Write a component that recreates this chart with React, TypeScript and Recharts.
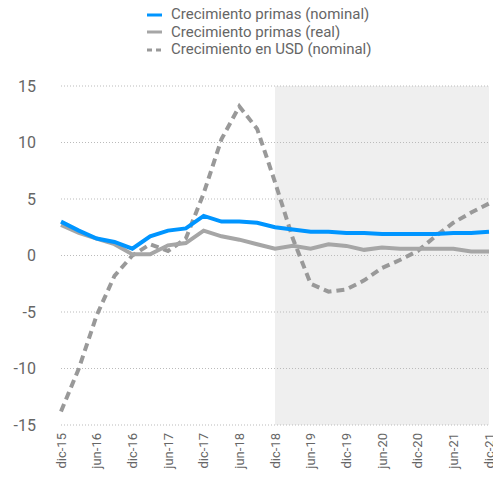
import { Line, LineChart, ReferenceArea, ReferenceLine, XAxis, YAxis } from "recharts";

const periods = [
  "dic-15", "mar-16", "jun-16", "sep-16", "dic-16", "mar-17", "jun-17", "sep-17", "dic-17",
  "mar-18", "jun-18", "sep-18", "dic-18", "mar-19", "jun-19", "sep-19", "dic-19", "mar-20",
  "jun-20", "sep-20", "dic-20", "mar-21", "jun-21", "sep-21", "dic-21"
];
const nominal = [3.0, 2.2, 1.5, 1.2, 0.6, 1.7, 2.2, 2.4, 3.5, 3.0, 3.0, 2.9, 2.5, 2.3, 2.1, 2.1, 2.0, 2.0, 1.9, 1.9, 1.9, 1.9, 2.0, 2.0, 2.1];
const real = [2.7, 2.0, 1.5, 1.0, 0.1, 0.1, 0.9, 1.1, 2.2, 1.7, 1.4, 1.0, 0.6, 0.85, 0.6, 1.0, 0.85, 0.5, 0.7, 0.6, 0.6, 0.6, 0.6, 0.35, 0.35];
const usd = [-13.8, -10.0, -5.3, -1.8, 0.0, 1.0, 0.4, 1.5, 5.5, 10.3, 13.2, 11.2, 6.5, 1.5, -2.5, -3.2, -3.0, -2.2, -1.1, -0.4, 0.4, 1.7, 2.9, 3.8, 4.6];
const yTicks = [-15, -10, -5, 0, 5, 10, 15];
const shownTicks = periods.filter((_, i) => i % 2 === 0);

const data = periods.map((p, i) => ({ p, nominal: nominal[i], real: real[i], usd: usd[i] }));

const font = "Roboto, 'DejaVu Sans', sans-serif";

function XTick({ x, y, payload }: any) {
  return (
    <g transform={`translate(${x},${y})`}>
      <text transform="rotate(-90)" textAnchor="end" dy="0.35em" fill="#666" fontSize={13} fontFamily={font}>
        {payload.value}
      </text>
    </g>
  );
}

function LegendBox() {
  const rows = [
    { label: "Crecimiento primas (nominal)", color: "#0095ff", dash: undefined },
    { label: "Crecimiento primas (real)", color: "#a6a6a6", dash: undefined },
    { label: "Crecimiento en USD (nominal)", color: "#999", dash: "5 4" }
  ];
  return (
    <div style={{ position: "absolute", left: 147, top: 6, fontFamily: font, fontSize: 15, color: "#666", lineHeight: "17.5px" }}>
      {rows.map((r) => (
        <div key={r.label} style={{ display: "flex", alignItems: "center" }}>
          <svg width={24} height={10}>
            <line x1={0} x2={15} y1={5} y2={5} stroke={r.color} strokeWidth={3} strokeDasharray={r.dash} />
          </svg>
          <span>{r.label}</span>
        </div>
      ))}
    </div>
  );
}

export default function App() {
  return (
    <div style={{ position: "absolute", left: 0, top: 0, width: 493, height: 477, background: "#fff" }}>
      <LegendBox />
      <LineChart width={493} height={477} data={data} margin={{ top: 86, right: 4, bottom: 0, left: 0 }}>
        <ReferenceArea x1="dic-18" x2="dic-21" y1={-15} y2={15} fill="#efefef" fillOpacity={1} stroke="none" />
        {yTicks.map((t) => (
          <ReferenceLine key={t} y={t} stroke="#bbb" strokeDasharray="1 2" />
        ))}
        <XAxis
          dataKey="p"
          ticks={shownTicks}
          interval={0}
          tick={<XTick />}
          tickLine={false}
          axisLine={false}
          height={52}
          tickMargin={2}
        />
        <YAxis
          domain={[-15, 15]}
          ticks={yTicks}
          width={61}
          tickLine={false}
          axisLine={false}
          tickMargin={19}
          tick={{ fill: "#666", fontSize: 16, fontFamily: font }}
        />
        <Line dataKey="usd" stroke="#999" strokeWidth={4} strokeDasharray="8 5" dot={false} isAnimationActive={false} />
        <Line dataKey="real" stroke="#a6a6a6" strokeWidth={4} dot={false} isAnimationActive={false} />
        <Line dataKey="nominal" stroke="#0095ff" strokeWidth={4} dot={false} isAnimationActive={false} />
      </LineChart>
    </div>
  );
}
